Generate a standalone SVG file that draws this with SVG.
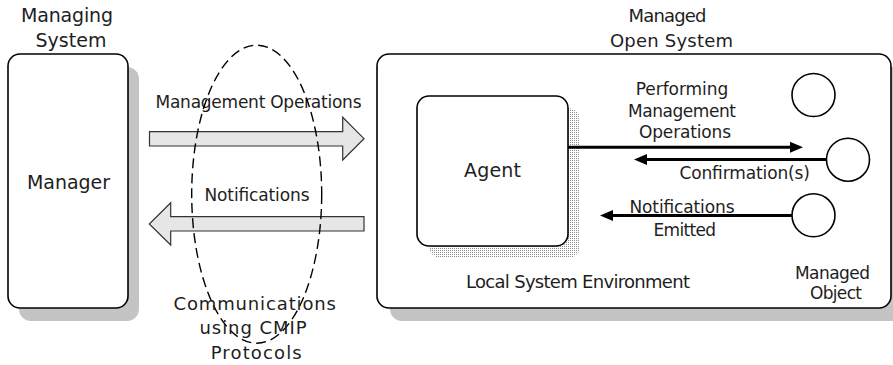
<svg xmlns="http://www.w3.org/2000/svg" width="893" height="365" viewBox="0 0 893 365">
  <style>
    text { font-family: "DejaVu Sans", "Liberation Sans", sans-serif; fill: #1e1e1e; font-size: 17px; text-anchor: middle; }
    .big { font-size: 19px; }
    .mid { font-size: 18px; }
    .box { fill: #ffffff; stroke: #000000; stroke-width: 1.6; }
    .shadow { fill: #c4c4c4; }
    .mo { fill: #ffffff; stroke: #000000; stroke-width: 1.6; }
    .block { fill: #e6e6e6; stroke: #333333; stroke-width: 1.2; stroke-linejoin: miter; }
    .flow { stroke: #000000; stroke-width: 3; fill: none; marker-end: url(#head); }
    .cmip { fill: none; stroke: #000000; stroke-width: 1.4; stroke-dasharray: 10 5; }
  </style>
  <defs>
    <marker id="head" markerUnits="userSpaceOnUse" markerWidth="14" markerHeight="12" refX="2" refY="6" orient="auto">
      <path d="M0,0.5 L13,6 L0,11.5 z" fill="#000000"/>
    </marker>
    <pattern id="dots" width="2" height="2" patternUnits="userSpaceOnUse">
      <rect x="0" y="0" width="1" height="1" fill="#8c8c8c"/>
    </pattern>
  </defs>

  <rect width="893" height="365" fill="#ffffff"/>

  <!-- managing system -->
  <g id="manager">
    <text class="big" x="67" y="22" textLength="92" lengthAdjust="spacing">Managing</text>
    <text class="big" x="71" y="46.5" textLength="71" lengthAdjust="spacing">System</text>
    <rect class="shadow" x="19" y="67" width="120" height="254" rx="12"/>
    <rect class="box" x="8" y="54" width="120" height="254" rx="12"/>
    <text class="big" x="68.5" y="189" textLength="83" lengthAdjust="spacing">Manager</text>
  </g>

  <!-- managed open system -->
  <g id="managed-system">
    <text class="mid" x="667.5" y="21.5" textLength="78" lengthAdjust="spacing">Managed</text>
    <text class="mid" x="671.5" y="46.5" textLength="123" lengthAdjust="spacing">Open System</text>
    <rect class="shadow" x="390" y="67" width="514" height="254" rx="12"/>
    <rect class="box" x="377" y="54" width="514" height="254" rx="12"/>
    <text class="mid" x="578" y="287.5" textLength="224" lengthAdjust="spacing">Local System Environment</text>
  </g>

  <!-- agent -->
  <g id="agent">
    <rect x="429" y="108" width="151" height="150" rx="12" fill="url(#dots)"/>
    <rect class="box" x="417" y="96" width="151" height="150" rx="12"/>
    <text class="big" x="492.5" y="176.5" textLength="57" lengthAdjust="spacing">Agent</text>
  </g>

  <!-- managed objects -->
  <g id="managed-object-1">
    <circle class="mo" cx="813.5" cy="95" r="21.5"/>
  </g>
  <g id="managed-object-2">
    <circle class="mo" cx="848" cy="159.7" r="21.5"/>
  </g>
  <g id="managed-object-3">
    <circle class="mo" cx="813.5" cy="215.3" r="21.5"/>
    <text x="832.5" y="278.5" textLength="75" lengthAdjust="spacing">Managed</text>
    <text x="836" y="298.5" textLength="52" lengthAdjust="spacing">Object</text>
  </g>

  <!-- connectors -->
  <g id="connectors">
    <!-- CMIP exchange between the two systems -->
    <path class="block" d="M149.5,131.7 H342.7 V117.3 L364,138.7 L342.7,160 V146 H149.5 Z"/>
    <path class="block" d="M364,216.7 H170.7 V202.7 L149.3,224 L170.7,245 V231 H364 Z"/>
    <text x="258.5" y="107.7" textLength="206" lengthAdjust="spacing">Management Operations</text>
    <text x="257" y="201" textLength="105" lengthAdjust="spacing">Notifications</text>

    <!-- agent to managed objects -->
    <line class="flow" x1="568" y1="147.3" x2="792" y2="147.3"/>
    <line class="flow" x1="826.5" y1="159.5" x2="645" y2="159.5"/>
    <line class="flow" x1="792" y1="215.5" x2="611" y2="215.5"/>
    <text x="682" y="95" textLength="92.5" lengthAdjust="spacing">Performing</text>
    <text x="682" y="117.3" textLength="108" lengthAdjust="spacing">Management</text>
    <text x="685" y="137.7" textLength="92" lengthAdjust="spacing">Operations</text>
    <text x="744.7" y="179.3" textLength="130.5" lengthAdjust="spacing">Confirmation(s)</text>
    <text x="682" y="213.3" textLength="105" lengthAdjust="spacing">Notifications</text>
    <text x="684.7" y="235.7" textLength="62.5" lengthAdjust="spacing">Emitted</text>
  </g>

  <!-- communications boundary -->
  <g id="cmip">
    <ellipse class="cmip" cx="256.7" cy="194.2" rx="65" ry="149"/>
    <text class="mid" x="254.7" y="310" textLength="162.5" lengthAdjust="spacing">Communications</text>
    <text class="mid" x="253" y="334.3" textLength="107" lengthAdjust="spacing">using CMIP</text>
    <text class="mid" x="256.2" y="359" textLength="91" lengthAdjust="spacing">Protocols</text>
  </g>
</svg>
